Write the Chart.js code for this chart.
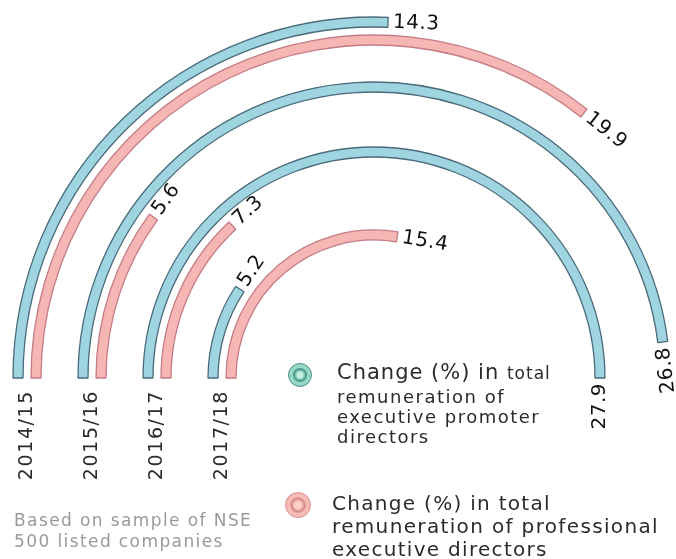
<!DOCTYPE html>
<html>
<head>
<meta charset="utf-8">
<script src="https://cdn.jsdelivr.net/npm/chart.js@4.4.1/dist/chart.umd.min.js"></script>
<style>
  html, body { margin: 0; padding: 0; background: #fff; overflow: hidden; width: 676px; height: 559px; }
  #stage { position: absolute; left: 0; top: 0; width: 676px; height: 559px; overflow: hidden; }
  #c { position: absolute; left: 0; top: 0; }
  .t { position: absolute; white-space: nowrap; line-height: 1; font-family: "DejaVu Sans", sans-serif; color: #2b2b2b; }
  .icon { position: absolute; border-radius: 50%; box-sizing: border-box; }
</style>
</head>
<body>
<div id="stage">
  <canvas id="c" width="748" height="756"></canvas>

  <div class="icon" style="left:288px;top:363px;width:24px;height:24px;border:1.5px solid #4f8d86;background:radial-gradient(circle,#c8f1e4 0 3px,#7cc7b5 4px 5px,#4f9a8c 5.5px 6.5px,#97d9c8 7.5px);"></div>
  <div class="t" style="left:337px;top:362px;font-size:21px;letter-spacing:1px;">Change (%) in <span style="font-size:17px;letter-spacing:1px;">total</span></div>
  <div class="t" style="left:337px;top:388px;font-size:18px;letter-spacing:1.5px;">remuneration of</div>
  <div class="t" style="left:337px;top:408px;font-size:18px;letter-spacing:1.5px;">executive promoter</div>
  <div class="t" style="left:337px;top:428px;font-size:18px;letter-spacing:1.5px;">directors</div>

  <div class="icon" style="left:285px;top:492px;width:26px;height:26px;border:1.5px solid #d48c92;background:radial-gradient(circle,#fbd0c0 0 4px,#e3a0a0 5px 6px,#d58a90 6.5px 7.2px,#f7bcb3 8px);"></div>
  <div class="t" style="left:332px;top:493px;font-size:20px;letter-spacing:1.3px;">Change (%) in total</div>
  <div class="t" style="left:332px;top:516px;font-size:20px;letter-spacing:1.35px;">remuneration of professional</div>
  <div class="t" style="left:332px;top:539px;font-size:20px;letter-spacing:1.3px;">executive directors</div>

  <div class="t" style="left:14px;top:512px;font-size:17px;letter-spacing:1.4px;color:#9a9a9a;">Based on sample of NSE</div>
  <div class="t" style="left:14px;top:533px;font-size:17px;letter-spacing:1.4px;color:#9a9a9a;">500 listed companies</div>
</div>

<script>
// ---- data ----
const years = ['2014/15', '2015/16', '2016/17', '2017/18'];
const promoterChange = [14.3, 26.8, 27.9, 5.2];      // executive promoter directors
const professionalChange = [19.9, 5.6, 7.3, 15.4];   // professional executive directors
const seriesNames = [
  'Change (%) in total remuneration of executive promoter directors',
  'Change (%) in total remuneration of professional executive directors'
];
const halfTurnValue = 27.9; // value that spans a half circle

// ---- styling ----
const BAND = 10, PAIR_GAP = 8, YEAR_GAP = 37;
const styles = [
  { fill: '#9fd5e0', edge: '#4b6b7a' },
  { fill: '#f6b6b4', edge: '#c47c86' }
];
const CLEAR = 'rgba(0,0,0,0)';

const datasets = [];
years.forEach((yr, i) => {
  [promoterChange[i], professionalChange[i]].forEach((v, s) => {
    datasets.push({
      label: yr + ' – ' + seriesNames[s],
      role: 'value', yearIndex: i, series: s,
      data: [v, 2 * halfTurnValue - v],
      backgroundColor: [styles[s].fill, CLEAR],
      borderColor: [styles[s].edge, CLEAR],
      borderWidth: [1.3, 0],
      weight: BAND
    });
    const last = (i === years.length - 1 && s === 1);
    if (!last) {
      datasets.push({
        role: 'spacer', data: [1],
        backgroundColor: [CLEAR], borderColor: [CLEAR], borderWidth: 0,
        weight: s === 0 ? PAIR_GAP : YEAR_GAP
      });
    }
  });
});

const OUTER = 361;
const totalWeight = datasets.reduce((a, d) => a + d.weight, 0);
const cutoutPct = ((OUTER - totalWeight) / OUTER * 100).toFixed(3) + '%';

const labelPlugin = {
  id: 'arcLabels',
  afterDatasetsDraw(chart) {
    const ctx = chart.ctx;
    const geo = {};
    chart.data.datasets.forEach((ds, di) => {
      if (ds.role !== 'value') return;
      const arc = chart.getDatasetMeta(di).data[0];
      const p = arc.getProps(['x', 'y', 'startAngle', 'endAngle', 'innerRadius', 'outerRadius'], true);
      const r = (p.innerRadius + p.outerRadius) / 2;
      geo[ds.yearIndex] = geo[ds.yearIndex] || { x: p.x, y: p.y, r: [] };
      geo[ds.yearIndex].r[ds.series] = r;
      const ex = p.x + r * Math.cos(p.endAngle);
      const ey = p.y + r * Math.sin(p.endAngle);
      let rot = p.endAngle + Math.PI / 2;
      while (rot > Math.PI) rot -= 2 * Math.PI;
      while (rot <= -Math.PI) rot += 2 * Math.PI;
      const gap = 5;
      ctx.save();
      ctx.translate(ex + gap * Math.cos(rot), ey + gap * Math.sin(rot));
      if (rot > 1.2) { ctx.rotate(rot - Math.PI); ctx.textAlign = 'right'; }
      else { ctx.rotate(rot); ctx.textAlign = 'left'; }
      ctx.textBaseline = 'middle';
      ctx.font = '20px "DejaVu Sans", sans-serif';
      if ('letterSpacing' in ctx) ctx.letterSpacing = '0.5px';
      ctx.fillStyle = '#111';
      ctx.fillText(ds.data[0].toFixed(1), 0, 0);
      ctx.restore();
    });
    years.forEach((yr, i) => {
      const g = geo[i];
      if (!g) return;
      const lx = g.x - (g.r[0] + g.r[1]) / 2;
      ctx.save();
      ctx.translate(lx, g.y + 12);
      ctx.rotate(-Math.PI / 2);
      ctx.textAlign = 'right';
      ctx.textBaseline = 'middle';
      ctx.font = '19px "DejaVu Sans", sans-serif';
      if ('letterSpacing' in ctx) ctx.letterSpacing = '1.6px';
      ctx.fillStyle = '#2b2b2b';
      ctx.fillText(yr, 0, 0);
      ctx.restore();
    });
  }
};

new Chart(document.getElementById('c'), {
  type: 'doughnut',
  data: { labels: ['value', 'rest'], datasets },
  options: {
    responsive: false,
    animation: false,
    events: [],
    rotation: -90,
    circumference: 360,
    radius: OUTER,
    cutout: cutoutPct,
    layout: { padding: 0 },
    plugins: { legend: { display: false }, tooltip: { enabled: false } }
  },
  plugins: [labelPlugin]
});
</script>
</body>
</html>
